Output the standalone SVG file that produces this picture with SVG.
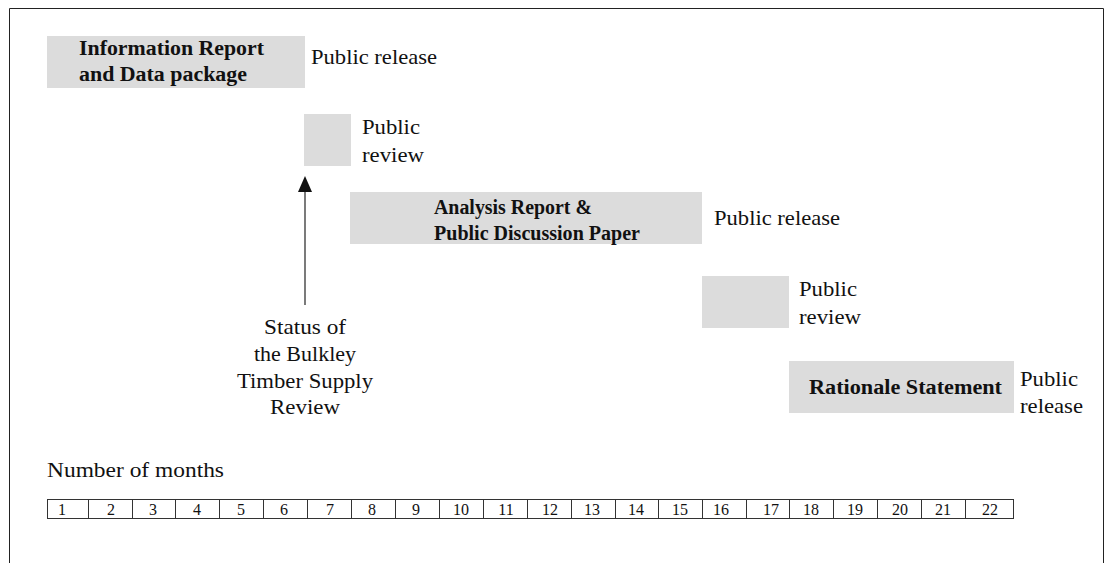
<svg xmlns="http://www.w3.org/2000/svg" width="1106" height="563" viewBox="0 0 1106 563">
<defs>
<style>
.box{fill:#dcdcdc;stroke:none}
.t{font-family:"Liberation Serif","Times New Roman",serif;font-size:21px;fill:#111}
.b{font-family:"Liberation Serif","Times New Roman",serif;font-size:20px;font-weight:bold;fill:#111}
.n{font-family:"Liberation Serif","Times New Roman",serif;font-size:16px;fill:#111;text-anchor:middle}
.c{text-anchor:middle}
.cell{fill:#fff;stroke:#333;stroke-width:1}
</style>
</defs>
<rect width="1106" height="563" fill="#fff"/>
<path d="M9.5,563 V8.5 H1103.5 V563" fill="none" stroke="#222" stroke-width="1"/>

<g id="info-report">
<rect class="box" x="47" y="36" width="258" height="52"/>
<text class="b" x="79" y="55" textLength="185" lengthAdjust="spacingAndGlyphs">Information Report</text>
<text class="b" x="79" y="81" textLength="168" lengthAdjust="spacingAndGlyphs">and Data package</text>
<text class="t" x="311" y="64" textLength="126" lengthAdjust="spacingAndGlyphs">Public release</text>
</g>

<g id="public-review-1">
<rect class="box" x="304" y="114" width="47" height="52"/>
<text class="t" x="362" y="134" textLength="58" lengthAdjust="spacingAndGlyphs">Public</text>
<text class="t" x="362" y="162" textLength="62" lengthAdjust="spacingAndGlyphs">review</text>
</g>

<g id="analysis-report">
<rect class="box" x="350" y="192" width="352" height="52"/>
<text class="b" x="434" y="214" textLength="158" lengthAdjust="spacingAndGlyphs">Analysis Report &amp;</text>
<text class="b" x="434" y="240" textLength="206" lengthAdjust="spacingAndGlyphs">Public Discussion Paper</text>
<text class="t" x="714" y="225" textLength="126" lengthAdjust="spacingAndGlyphs">Public release</text>
</g>

<g id="public-review-2">
<rect class="box" x="702" y="276" width="87" height="52"/>
<text class="t" x="799" y="296" textLength="58" lengthAdjust="spacingAndGlyphs">Public</text>
<text class="t" x="799" y="324" textLength="62" lengthAdjust="spacingAndGlyphs">review</text>
</g>

<g id="rationale">
<rect class="box" x="789" y="361" width="225" height="52"/>
<text class="b" x="809" y="394" textLength="193" lengthAdjust="spacingAndGlyphs">Rationale Statement</text>
<text class="t" x="1020" y="386" textLength="58" lengthAdjust="spacingAndGlyphs">Public</text>
<text class="t" x="1020" y="413" textLength="63" lengthAdjust="spacingAndGlyphs">release</text>
</g>

<g id="status">
<text class="t" x="264" y="334" textLength="82" lengthAdjust="spacingAndGlyphs">Status of</text>
<text class="t" x="254" y="361" textLength="102" lengthAdjust="spacingAndGlyphs">the Bulkley</text>
<text class="t" x="237" y="388" textLength="136" lengthAdjust="spacingAndGlyphs">Timber Supply</text>
<text class="t" x="270" y="414" textLength="70" lengthAdjust="spacingAndGlyphs">Review</text>
</g>

<g id="connectors">
<line x1="305" y1="305" x2="305" y2="188" stroke="#333" stroke-width="1.3"/>
<polygon points="305,176 298,192 312,192" fill="#111"/>
</g>

<g id="timeline">
<text class="t" x="47" y="477" textLength="177" lengthAdjust="spacingAndGlyphs">Number of months</text>
<rect class="cell" x="47.5" y="499.5" width="966" height="19"/>
<g stroke="#333" stroke-width="1">
<line x1="88.5" y1="499.5" x2="88.5" y2="518.5"/>
<line x1="132.5" y1="499.5" x2="132.5" y2="518.5"/>
<line x1="175.5" y1="499.5" x2="175.5" y2="518.5"/>
<line x1="219.5" y1="499.5" x2="219.5" y2="518.5"/>
<line x1="263.5" y1="499.5" x2="263.5" y2="518.5"/>
<line x1="307.5" y1="499.5" x2="307.5" y2="518.5"/>
<line x1="351.5" y1="499.5" x2="351.5" y2="518.5"/>
<line x1="395.5" y1="499.5" x2="395.5" y2="518.5"/>
<line x1="439.5" y1="499.5" x2="439.5" y2="518.5"/>
<line x1="483.5" y1="499.5" x2="483.5" y2="518.5"/>
<line x1="527.5" y1="499.5" x2="527.5" y2="518.5"/>
<line x1="571.5" y1="499.5" x2="571.5" y2="518.5"/>
<line x1="615.5" y1="499.5" x2="615.5" y2="518.5"/>
<line x1="658.5" y1="499.5" x2="658.5" y2="518.5"/>
<line x1="702.5" y1="499.5" x2="702.5" y2="518.5"/>
<line x1="746.5" y1="499.5" x2="746.5" y2="518.5"/>
<line x1="789.5" y1="499.5" x2="789.5" y2="518.5"/>
<line x1="833.5" y1="499.5" x2="833.5" y2="518.5"/>
<line x1="877.5" y1="499.5" x2="877.5" y2="518.5"/>
<line x1="921.5" y1="499.5" x2="921.5" y2="518.5"/>
<line x1="965.5" y1="499.5" x2="965.5" y2="518.5"/>
</g>
<text class="n" x="62" y="515">1</text>
<text class="n" x="111" y="515">2</text>
<text class="n" x="153" y="515">3</text>
<text class="n" x="197" y="515">4</text>
<text class="n" x="241" y="515">5</text>
<text class="n" x="284" y="515">6</text>
<text class="n" x="330" y="515">7</text>
<text class="n" x="372" y="515">8</text>
<text class="n" x="416" y="515">9</text>
<text class="n" x="461" y="515">10</text>
<text class="n" x="506" y="515">11</text>
<text class="n" x="550" y="515">12</text>
<text class="n" x="592" y="515">13</text>
<text class="n" x="636" y="515">14</text>
<text class="n" x="680" y="515">15</text>
<text class="n" x="721" y="515">16</text>
<text class="n" x="771" y="515">17</text>
<text class="n" x="811" y="515">18</text>
<text class="n" x="855" y="515">19</text>
<text class="n" x="900" y="515">20</text>
<text class="n" x="943" y="515">21</text>
<text class="n" x="990" y="515">22</text>
</g>
</svg>
